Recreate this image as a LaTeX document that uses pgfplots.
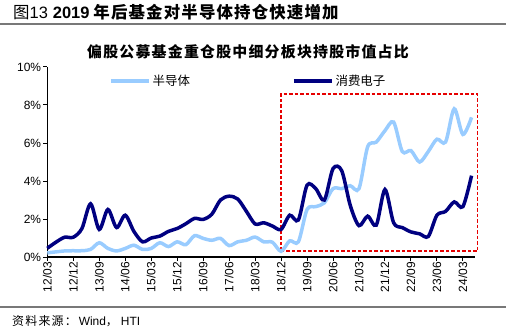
\documentclass[border=0pt]{standalone}
\usepackage{pgfplots}
\usepackage{pgfplotstable}
\pgfplotsset{compat=1.18}
\usepackage{fontspec}
\setmainfont{Liberation Sans}
\newfontfamily\cjk{Noto Sans CJK SC}
\definecolor{lb}{RGB}{153,204,255}
\definecolor{db}{RGB}{0,0,128}
\definecolor{rulegray}{RGB}{120,120,120}
\definecolor{boxred}{RGB}{230,0,0}

\pgfplotstableread{
i semi cons
0 0.22 0.46
1 0.27 0.78
2 0.32 1.04
3 0.33 1.04
4 0.33 1.50
5 0.40 2.80
6 0.75 1.45
7 0.45 2.50
8 0.32 1.55
9 0.45 2.20
10 0.62 1.35
11 0.40 0.80
12 0.45 1.00
13 0.75 1.10
14 0.55 1.35
15 0.80 1.50
16 0.65 1.75
17 1.12 2.03
18 0.98 1.98
19 0.88 2.25
20 0.98 3.00
21 0.60 3.20
22 0.80 3.05
23 0.88 2.40
24 1.05 1.74
25 0.80 1.80
26 0.78 1.63
27 0.30 1.45
28 0.85 2.20
29 0.80 1.95
30 2.50 3.78
31 2.65 3.60
32 2.85 3.00
33 3.60 4.65
34 3.60 4.55
35 3.75 2.70
36 3.60 1.65
37 5.80 2.15
38 6.05 1.68
39 6.65 3.55
40 7.10 1.80
41 5.55 1.55
42 5.60 1.32
43 5.00 1.22
44 5.55 1.08
45 6.20 2.20
46 6.05 2.40
47 7.80 2.90
48 6.45 2.65
49 7.35 4.28
}\datatable

\begin{document}
\begin{tikzpicture}[x=1bp,y=1bp]
\useasboundingbox (0,0) rectangle (506,332);
% header
\node[anchor=west, inner sep=0pt] at (13,320)
  {{\cjk\fontsize{16.5}{16.5}\selectfont 图}\fontsize{16.5}{16.5}\selectfont 13\hspace{5bp}{\bfseries 2019}\hspace{4bp}{\cjk\bfseries\addfontfeature{LetterSpace=7}\fontsize{16.5}{16.5}\selectfont 年后基金对半导体持仓快速增加}};
\draw[rulegray, line width=1.5bp] (0,308) -- (506,308);
\draw[rulegray, line width=1.5bp] (0,25) -- (506,25);
\node[anchor=west, inner sep=0pt] at (12,11)
  {{\cjk\addfontfeature{LetterSpace=10}\fontsize{12}{12}\selectfont 资料来源：}\hspace{2bp}{\fontsize{12}{12}\selectfont Wind}{\cjk\fontsize{12}{12}\selectfont ，}\hspace{3bp}{\fontsize{12}{12}\selectfont HTI}};
\node[inner sep=0pt] at (248,280)
  {\cjk\bfseries\addfontfeature{LetterSpace=8}\fontsize{15}{15}\selectfont 偏股公募基金重仓股中细分板块持股市值占比};
\begin{axis}[
  at={(47.3bp,75bp)}, anchor=south west,
  scale only axis, width=427.7bp, height=190bp,
  xmin=0, xmax=49.4, ymin=0, ymax=10,
  clip=false,
  axis x line*=bottom, axis y line*=left,
  axis line style={-, black, line width=1.3bp},
  tick align=outside, major tick length=4bp,
  tick style={black, line width=1bp},
  xtick={0,3,...,48},
  xticklabels={12/03,12/12,13/09,14/06,15/03,15/12,16/09,17/06,18/03,18/12,19/09,20/06,21/03,21/12,22/09,23/06,24/03},
  ytick={0,2,4,6,8,10},
  yticklabels={0\%,2\%,4\%,6\%,8\%,10\%},
  /pgf/number format/assume math mode=true,
  x tick label style={rotate=90, anchor=east, font=\fontsize{12}{12}\selectfont, inner sep=2bp, xshift=1bp},
  y tick label style={font=\fontsize{12}{12}\selectfont, inner sep=2bp},
  legend style={at={(0.1443,0.926)}, anchor=west, draw=none, fill=none, inner sep=0pt,
    font=\cjk\fontsize{12.5}{12.5}\selectfont, column sep=0pt,
    /tikz/every even column/.append style={column sep=100bp}},
  legend columns=2,
  legend image code/.code={\draw[#1, line width=3.5bp] (0bp,0bp) -- (38bp,0bp);},
]
\draw[draw=boxred, line width=1.3bp, dash pattern=on 3.5bp off 2bp] (axis cs:27,0.32) rectangle (axis cs:49.7,8.58);
\addplot[lb, line width=3.5bp, smooth, no markers] table[x=i, y=semi] {\datatable};
\addlegendentry{半导体}
\addplot[db, line width=3.5bp, smooth, no markers] table[x=i, y=cons] {\datatable};
\addlegendentry{消费电子}
\end{axis}
\end{tikzpicture}
\end{document}
